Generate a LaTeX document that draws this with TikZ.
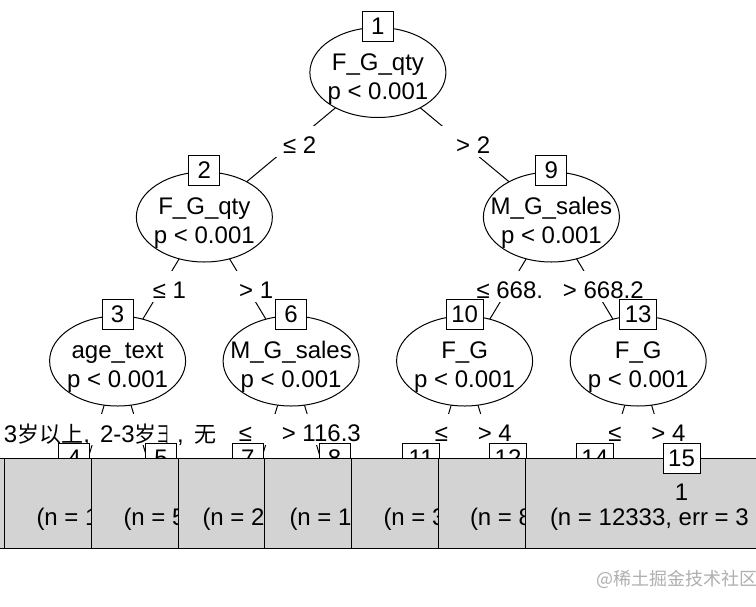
\documentclass[tikz,border=0pt]{standalone}
\usepackage{fontspec}
\setmainfont{Liberation Sans}
\newfontfamily\cjk{Noto Sans CJK SC}
\usetikzlibrary{calc,shapes.geometric}
\definecolor{panelgray}{RGB}{211,211,211}
\definecolor{wmgray}{RGB}{175,175,175}
\newcommand\zh[1]{{\cjk\fontsize{22}{26}\selectfont #1}}
\newcommand\bigf{\fontsize{24}{28}\selectfont}
\newcommand\elab[5]{%
  \node[elbg] (#1bg) at ($(#2)!0.5!(#3)+(0,-3)$) {\hspace*{9pt}\phantom{#4#5}\hspace*{9pt}};
  \node[eltext] (#1) at ($(#2)!0.5!(#3)+(8.5,9)$) {#4\phantom{#5}};
}
\begin{document}
\begin{tikzpicture}[x=1pt,y=-1pt,
  every node/.style={inner sep=0pt,outer sep=0pt},
  edge/.style={line width=1pt},
  inner/.style={ellipse,draw,line width=1pt,fill=white,minimum width=136pt,minimum height=90pt},
  idbox/.style={draw,line width=1pt,fill=white,minimum height=30pt,minimum width=31pt,font=\bigf},
  idwide/.style={idbox,minimum width=37pt},
  ntext/.style={anchor=base,font=\bigf},
  elbg/.style={fill=white,minimum height=31pt,font=\bigf},
  eltext/.style={anchor=base,font=\bigf},
  zhlab/.style={anchor=base west,font=\bigf},
  panel/.style={draw,line width=1pt,fill=panelgray,minimum width=313pt,minimum height=90pt},
  ptext/.style={anchor=base west,font=\bigf},
]
\useasboundingbox (0,0) rectangle (756,606);
\clip (0,0) rectangle (756,606);
\fill[white] (0,0) rectangle (756,606);

% node centres
\coordinate (c1) at (377.9,72.5);
\coordinate (c2) at (204.35,217);
\coordinate (c9) at (551.4,217);
\coordinate (c3) at (117.6,361);
\coordinate (c6) at (291.1,361);
\coordinate (c10) at (464.6,361);
\coordinate (c13) at (638.2,361);
\coordinate (c4) at (74.2,504);
\coordinate (c5) at (161,504);
\coordinate (c7) at (247.7,504);
\coordinate (c8) at (334.5,504);
\coordinate (c11) at (421.2,504);
\coordinate (c12) at (508,504);
\coordinate (c14) at (594.8,504);
\coordinate (c15) at (681.5,504);

% connectors
\draw[edge] (c1) -- (c2);
\draw[edge] (c1) -- (c9);
\draw[edge] (c2) -- (c3);
\draw[edge] (c2) -- (c6);
\draw[edge] (c9) -- (c10);
\draw[edge] (c9) -- (c13);
\draw[edge] (c3) -- (c4);
\draw[edge] (c3) -- (c5);
\draw[edge] (c6) -- (c7);
\draw[edge] (c6) -- (c8);
\draw[edge] (c10) -- (c11);
\draw[edge] (c10) -- (c12);
\draw[edge] (c13) -- (c14);
\draw[edge] (c13) -- (c15);

% edge labels
\elab{e12}{c1}{c2}{≤ 2}{}
\elab{e19}{c1}{c9}{> 2}{}
\elab{e23}{c2}{c3}{≤ 1}{}
\elab{e26}{c2}{c6}{> 1}{}
\elab{e910}{c9}{c10}{≤ 668.}{2}
\elab{e913}{c9}{c13}{> 668.2}{}
\node[fill=white,minimum width=218pt,minimum height=31pt] (e3bg) at (111,429.5) {};
\node[zhlab] (e34) at (4,442) {3\zh{岁以上},};
\node[zhlab] (e34b) at (100,442) {2-3\zh{岁}};
\node[zhlab] (e35) at (157,442) {\scalebox{0.55}[1]{\zh{彐}}};
\node[zhlab] (e35b) at (177,442) {,};
\node[zhlab] (e35c) at (194,442) {\zh{无}};
\elab{e67}{c6}{c7}{≤}{ 116.3}
\elab{e68}{c6}{c8}{> 116.3}{}
\elab{e1011}{c10}{c11}{≤}{ 4}
\elab{e1012}{c10}{c12}{> 4}{}
\elab{e1314}{c13}{c14}{≤}{ 4}
\elab{e1315}{c13}{c15}{> 4}{}

% inner nodes
\node[inner] (n1) at (c1) {};
\node[ntext] (n1a) at ($(c1)+(0,-2.5)$) {F\_G\_qty};
\node[ntext] (n1b) at ($(c1)+(0,26.5)$) {p < 0.001};
\node[idbox] (id1) at ($(c1)+(0,-46.5)$) {1};

\node[inner] (n2) at (c2) {};
\node[ntext] (n2a) at ($(c2)+(0,-2.5)$) {F\_G\_qty};
\node[ntext] (n2b) at ($(c2)+(0,26.5)$) {p < 0.001};
\node[idbox] (id2) at ($(c2)+(0,-46.5)$) {2};

\node[inner] (n9) at (c9) {};
\node[ntext] (n9a) at ($(c9)+(0,-2.5)$) {M\_G\_sales};
\node[ntext] (n9b) at ($(c9)+(0,26.5)$) {p < 0.001};
\node[idbox] (id9) at ($(c9)+(0,-46.5)$) {9};

\node[inner] (n3) at (c3) {};
\node[ntext] (n3a) at ($(c3)+(0,-2.5)$) {age\_text};
\node[ntext] (n3b) at ($(c3)+(0,26.5)$) {p < 0.001};
\node[idbox] (id3) at ($(c3)+(0,-46.5)$) {3};

\node[inner] (n6) at (c6) {};
\node[ntext] (n6a) at ($(c6)+(0,-2.5)$) {M\_G\_sales};
\node[ntext] (n6b) at ($(c6)+(0,26.5)$) {p < 0.001};
\node[idbox] (id6) at ($(c6)+(0,-46.5)$) {6};

\node[inner] (n10) at (c10) {};
\node[ntext] (n10a) at ($(c10)+(0,-2.5)$) {F\_G};
\node[ntext] (n10b) at ($(c10)+(0,26.5)$) {p < 0.001};
\node[idwide] (id10) at ($(c10)+(0,-46.5)$) {10};

\node[inner] (n13) at (c13) {};
\node[ntext] (n13a) at ($(c13)+(0,-2.5)$) {F\_G};
\node[ntext] (n13b) at ($(c13)+(0,26.5)$) {p < 0.001};
\node[idwide] (id13) at ($(c13)+(0,-46.5)$) {13};

% terminal panels, drawn in order so that each covers the one before
\node[panel] (p4) at ($(c4)+(0,-1)$) {};
\node[idbox] (id4) at ($(c4)+(0,-46)$) {4};

\node[panel] (p5) at ($(c5)+(0,-1)$) {};
\node[ptext] (p5t) at (36.5,525) {(n = 1};
\node[idbox] (id5) at ($(c5)+(0,-46)$) {5};

\node[panel] (p7) at ($(c7)+(0,-1)$) {};
\node[ptext] (p7t) at (123.5,525) {(n = 5};
\node[idbox] (id7) at ($(c7)+(0,-46)$) {7};

\node[panel] (p8) at ($(c8)+(0,-1)$) {};
\node[ptext] (p8t) at (202.5,525) {(n = 2};
\node[idbox] (id8) at ($(c8)+(0,-46)$) {8};

\node[panel] (p11) at ($(c11)+(0,-1)$) {};
\node[ptext] (p11t) at (289.5,525) {(n = 1};
\node[idwide] (id11) at ($(c11)+(0,-46)$) {11};

\node[panel] (p12) at ($(c12)+(0,-1)$) {};
\node[ptext] (p12t) at (383.5,525) {(n = 3};
\node[idwide] (id12) at ($(c12)+(0,-46)$) {12};

\node[panel] (p14) at ($(c14)+(0,-1)$) {};
\node[ptext] (p14t) at (470,525) {(n = 8};
\node[idwide] (id14) at ($(c14)+(0,-46)$) {14};

\node[panel] (p15) at ($(c15)+(0,-1)$) {};
\node[ntext] (p15a) at ($(c15)+(0,-4)$) {1};
\node[ptext] (p15t) at (550,525) {(n = 12333, err = 3};
\node[idwide] (id15) at ($(c15)+(0,-46)$) {15};

% watermark
\node[anchor=west,text=wmgray,font=\cjk\fontsize{18}{20}\selectfont] (wm) at (596,579) {@稀土掘金技术社区};
\end{tikzpicture}
\end{document}
